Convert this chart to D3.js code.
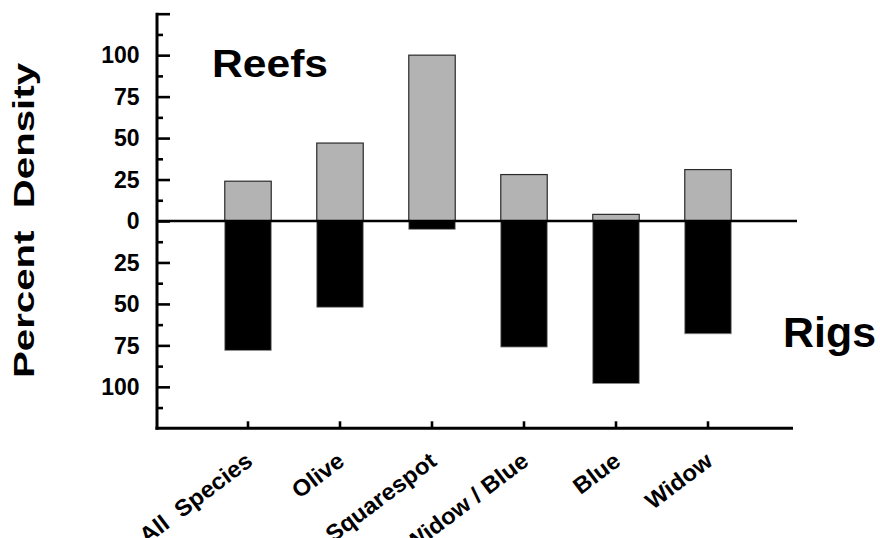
<!DOCTYPE html>
<html>
<head>
<meta charset="utf-8">
<script src="https://cdn.jsdelivr.net/npm/d3@7"></script>
<style>
  html, body { margin: 0; padding: 0; background: #fff; }
  svg text { font-family: "Liberation Sans", Arial, Helvetica, sans-serif; font-weight: bold; fill: #000; white-space: pre; }
</style>
</head>
<body>
<svg id="chart" width="880" height="538"></svg>
<script>
// Species groups along the x axis
const categories = ["All  Species", "Olive", "Squarespot", "Widow / Blue", "Blue", "Widow"];
// Percent density on natural reefs (drawn upward) and on oil rigs (drawn downward)
const reefValues = [24, 47, 100, 28, 4, 31];
const rigValues  = [78, 52, 5, 76, 98, 68];
// Y axis labels are magnitudes on both sides of zero
const majorTicks = [-100, -75, -50, -25, 0, 25, 50, 75, 100];
const minorTicks = [-112.5, -87.5, -62.5, -37.5, -12.5, 12.5, 37.5, 62.5, 87.5, 112.5];

const svg = d3.select("#chart");

const axisX = 157, axisBottom = 428.3, axisTop = 13.7, axisRight = 793;

const y = d3.scaleLinear().domain([-125, 125]).range([axisBottom, axisTop]);
const x = d3.scaleBand().domain(categories)
  .range([202, 754]).paddingInner(0.495).paddingOuter(0.2475);

// Reef bars (grey, above zero)
svg.append("g").selectAll("rect").data(reefValues).join("rect")
  .attr("x", (d, i) => x(categories[i]))
  .attr("width", x.bandwidth())
  .attr("y", d => y(d))
  .attr("height", d => y(0) - y(d))
  .attr("fill", "#b3b3b3")
  .attr("stroke", "#2a2a2a")
  .attr("stroke-width", 1.2);

// Rig bars (black, below zero)
svg.append("g").selectAll("rect").data(rigValues).join("rect")
  .attr("x", (d, i) => x(categories[i]))
  .attr("width", x.bandwidth())
  .attr("y", y(0))
  .attr("height", d => y(-d) - y(0))
  .attr("fill", "#000")
  .attr("stroke", "#8a8a8a")
  .attr("stroke-width", 0.8);

// Zero line across the plot
svg.append("line")
  .attr("x1", axisX).attr("x2", 797)
  .attr("y1", y(0)).attr("y2", y(0))
  .attr("stroke", "#000").attr("stroke-width", 2.5);

// Y axis with inward major and minor ticks
const yAxis = d3.axisRight(y)
  .tickValues(majorTicks.concat([125]))
  .tickSize(13)
  .tickFormat("");
const gy = svg.append("g").attr("transform", `translate(${axisX},0)`).call(yAxis);
gy.select(".domain").remove();
gy.selectAll(".tick line").attr("stroke", "#000").attr("stroke-width", 2.6);

const gyMinor = svg.append("g").attr("transform", `translate(${axisX},0)`)
  .call(d3.axisRight(y).tickValues(minorTicks).tickSize(6).tickFormat(""));
gyMinor.select(".domain").remove();
gyMinor.selectAll(".tick line").attr("stroke", "#000").attr("stroke-width", 2.6);

svg.append("line")
  .attr("x1", axisX).attr("x2", axisX)
  .attr("y1", axisTop - 1).attr("y2", axisBottom + 1.5)
  .attr("stroke", "#000").attr("stroke-width", 3);

// Y tick labels (absolute values)
svg.append("g").selectAll("text").data(majorTicks).join("text")
  .attr("x", 139.5)
  .attr("y", d => y(d))
  .attr("dy", "0.36em")
  .attr("text-anchor", "end")
  .style("font-size", "23px")
  .text(d => Math.abs(d));

// X axis with upward ticks at the bar centres
const xAxis = d3.axisTop(x).tickSize(7).tickFormat("");
const gx = svg.append("g").attr("transform", `translate(0,${axisBottom})`).call(xAxis);
gx.select(".domain").remove();
gx.selectAll(".tick line").attr("stroke", "#000").attr("stroke-width", 2.6);

svg.append("line")
  .attr("x1", axisX - 1.5).attr("x2", axisRight)
  .attr("y1", axisBottom).attr("y2", axisBottom)
  .attr("stroke", "#000").attr("stroke-width", 3);

// Slanted category labels
const labelAngle = -37;
svg.append("g").selectAll("text").data(categories).join("text")
  .attr("transform", d => `translate(${x(d) + x.bandwidth() / 2 + 6},464) rotate(${labelAngle})`)
  .attr("text-anchor", "end")
  .style("font-size", "23px")
  .text(d => d)
  .each(function () {
    const len = this.getComputedTextLength();
    d3.select(this).attr("textLength", len * 1.04).attr("lengthAdjust", "spacingAndGlyphs");
  });

// Panel labels
svg.append("text")
  .attr("x", 212).attr("y", 77)
  .style("font-size", "38px")
  .attr("textLength", 116).attr("lengthAdjust", "spacingAndGlyphs")
  .text("Reefs");

svg.append("text")
  .attr("x", 783).attr("y", 347)
  .style("font-size", "42px")
  .attr("textLength", 93).attr("lengthAdjust", "spacingAndGlyphs")
  .text("Rigs");

// Y axis title
svg.append("text")
  .attr("transform", "translate(33.5,220.5) rotate(-90)")
  .attr("text-anchor", "middle")
  .style("font-size", "30px")
  .attr("textLength", 315).attr("lengthAdjust", "spacingAndGlyphs")
  .text("Percent  Density");
</script>
</body>
</html>
